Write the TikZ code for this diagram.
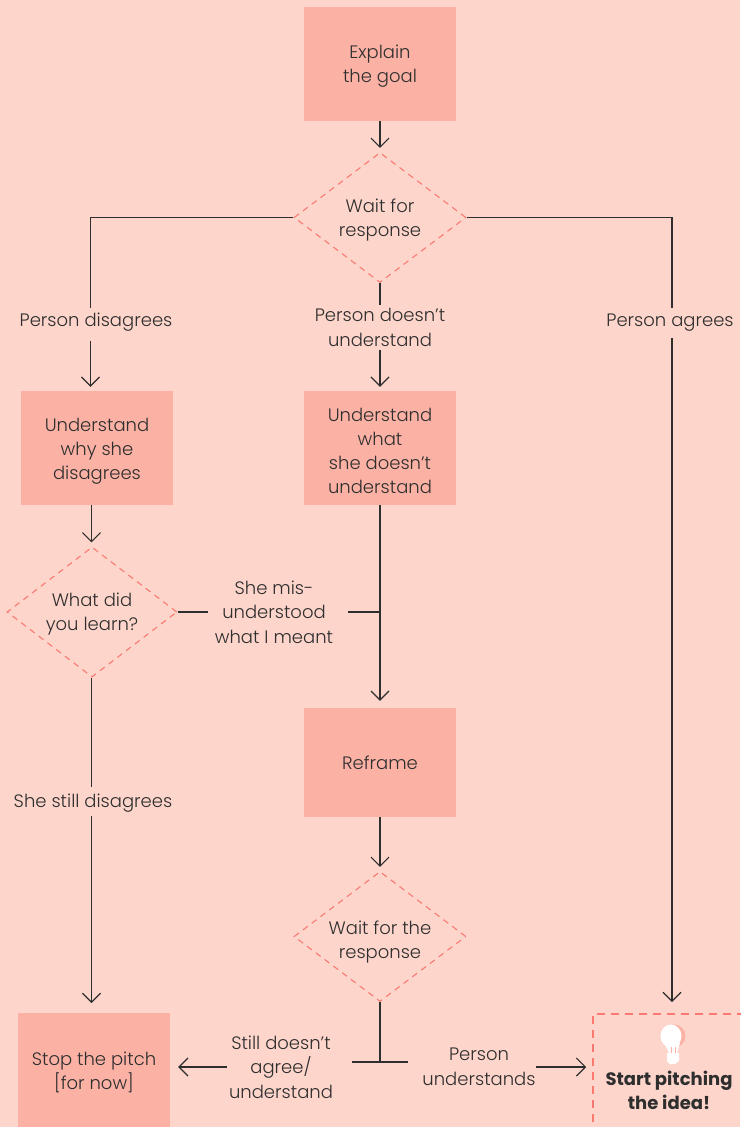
\documentclass[tikz,border=0pt]{standalone}
\usepackage{fontspec}
\setmainfont{Poppins}[UprightFont=* Light, BoldFont=* Bold]
\usetikzlibrary{arrows.meta, shapes.geometric, positioning}
\definecolor{pagebg}{HTML}{FDD5CB}
\definecolor{boxfill}{HTML}{FBB2A5}
\definecolor{dashline}{HTML}{FA7A73}
\definecolor{inkline}{HTML}{2E2E2E}
\tikzset{
	actbox/.style={fill=boxfill, minimum width=152, minimum height=114, inner sep=0, align=center, font=\fontsize{18}{24}\selectfont},
	askdiamond/.style={diamond, draw=dashline, line width=1.1, dash pattern=on 6 off 5, aspect=1.32, minimum width=172, minimum height=130, inner sep=0, align=center, font=\fontsize{18}{24}\selectfont},
	linelabel/.style={inner sep=0, align=center},
	flow/.style={line width=1.15, draw=inkline},
	flowarrow/.style={flow, shorten >=4, -{Straight Barb[length=9,width=18,line width=1.15]}}
}
\begin{document}
\begin{tikzpicture}[x=1pt, y=-1pt, every node/.style={text=inkline, font=\fontsize{18}{24.5}\selectfont}]
	\fill[pagebg] (0,0) rectangle (740,1127);
	\useasboundingbox (0,0) rectangle (740,1127);

	% Top of the chart
	\node[actbox, text depth=0pt] (goal) at (380,64) {Explain\\the goal};
	\node[askdiamond, text depth=0pt] (waitone) at (380,217.5) {Wait for\\response};
	\node[linelabel, minimum height=28] (disagrees) at (96,322) {Person disagrees};
	\node[linelabel, minimum height=45] (confused) at (380,327.5) {Person doesn't\\understand};
	\node[linelabel, minimum height=30] (agrees) at (670,323) {Person agrees};
	\coordinate (disagreesin) at (90.5,308);
	\coordinate (disagreesout) at (90.5,341);
	\coordinate (agreesin) at (672,308);
	\coordinate (agreesout) at (672,338);

	% Middle row
	\node[actbox, text depth=0pt, text height=63pt] (why) at (97,448) {Understand\\why she\\disagrees};
	\node[actbox, text depth=0pt, text height=91pt] (what) at (380,448) {Understand\\what\\she doesn't\\understand};
	\node[askdiamond, minimum width=170, text depth=0pt] (learn) at (92,612) {What did\\you learn?};
	\node[linelabel, minimum width=132] (misread) at (274,612) {She mis-\\understood\\what I meant};
	\node[actbox, minimum height=109] (reframe) at (380,762.5) {Reframe};
	\node[linelabel] (still) at (93,803.5) {She still disagrees};
	\coordinate (whybase) at (91.5,505);
	\coordinate (misreadout) at (348,612);
	\coordinate (stillin) at (91.5,787);
	\coordinate (stillout) at (91.5,816);

	% Bottom of the chart
	\node[askdiamond, text depth=0pt, text height=43pt] (waitthree) at (380,936.5) {Wait for the\\response};
	\node[actbox, text depth=0pt, text height=39pt] (stop) at (94,1070) {Stop the pitch\\{[}for now{]}};
	\node[linelabel, minimum width=108] (notyet) at (281,1067) {Still doesn't\\agree/\\understand};
	\node[linelabel, minimum width=114] (gets) at (479,1067) {Person\\understands};
	\node[draw=dashline, line width=1.5, dash pattern=on 8 off 6, minimum width=152, minimum height=114] (start) at (669,1071) {};
	\node[inner sep=0, align=center, font=\fontsize{18}{24}\selectfont\bfseries] (pitching) at (669,1090) {Start pitching\\the idea!};
	\coordinate (junction) at (380,1062);
	\coordinate (junctionleft) at (352,1062);
	\coordinate (junctionright) at (408,1062);
	\coordinate (startin) at (672,1014);
	\coordinate (stopin) at (91.5,1013);

	% Bulb
	\fill[boxfill] (674,1036) ellipse (11.5 and 11.5);
	\fill[white] (671,1036) ellipse (10.5 and 11.5);
	\fill[white] (664,1043) -- (680,1043) -- (677,1053) -- (679,1053) -- (679,1061) -- (675,1064) -- (670,1064) -- (667,1061) -- (667,1053) -- (669,1053) -- cycle;
	\draw[boxfill, line width=0.8] (671,1047) -- (671,1053) (675,1047) -- (675,1053);

	% Connectors
	\draw[flowarrow] (goal) -- (waitone);
	\draw[flow] (waitone.west) -| (disagreesin);
	\draw[flowarrow] (disagreesout) -- (disagreesout |- why.north);
	\draw[flow] (waitone) -- (confused);
	\draw[flowarrow] (confused) -- (what);
	\draw[flow] (waitone.east) -| (agreesin);
	\draw[flowarrow, shorten >=12] (agreesout) -- (startin);
	\draw[flowarrow] (whybase) -- (whybase |- learn.north);
	\draw[flow] (learn.east) -- (misread.west);
	\draw[flow] (misreadout) -- (misreadout -| what.south);
	\draw[flowarrow, shorten >=7] (what) -- (reframe);
	\draw[flowarrow] (reframe) -- (waitthree);
	\draw[flow] (whybase |- learn.south) -- (stillin);
	\draw[flowarrow, shorten >=10] (stillout) -- (stopin);
	\draw[flow] (waitthree) -- (junction);
	\draw[flow] (junctionleft) -- (junctionright);
	\draw[flowarrow, shorten >=8] (notyet.west) -- (notyet.west -| stop.east);
	\draw[flowarrow, shorten >=6] (gets.east) -- (gets.east -| start.west);
\end{tikzpicture}
\end{document}
